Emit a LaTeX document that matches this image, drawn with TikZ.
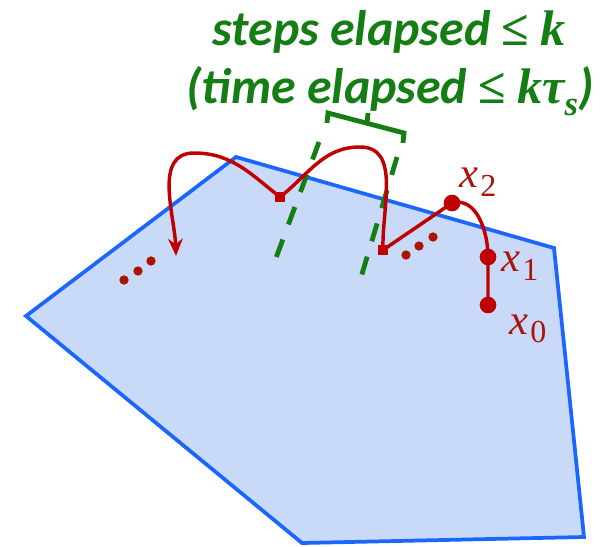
\documentclass[tikz,border=0pt]{standalone}
\usepackage{fontspec}
\setmainfont{Carlito}
\newfontfamily\mfont{Liberation Serif}
\usetikzlibrary{arrows.meta}
\definecolor{polyfill}{RGB}{201,218,248}
\definecolor{polyedge}{RGB}{26,102,255}
\definecolor{pathred}{RGB}{192,0,0}
\definecolor{dotred}{RGB}{170,20,0}
\definecolor{labred}{RGB}{170,20,10}
\definecolor{grn}{RGB}{20,125,20}
\newcommand{\mysub}[2]{{\mfont\itshape #1}\kern0.04em\raisebox{-0.2em}{\fontsize{24}{24}\selectfont\mfont\upshape #2}}
\newcommand{\leqsym}{{\mfont\bfseries\upshape ≤}}
\newcommand{\bi}[1]{{\mfont\bfseries\itshape #1}}
\tikzset{
  poly/.style={draw=polyedge,fill=polyfill,line width=2.8pt,line join=miter},
  traj/.style={draw=pathred,line width=2.6pt},
  sq/.style={fill=pathred,minimum size=8pt,inner sep=0pt,draw=none},
  pt/.style={circle,fill=pathred,minimum size=12.5pt,inner sep=0pt,draw=none},
  smalldot/.style={circle,fill=dotred,minimum size=7pt,inner sep=0pt,draw=none},
  lab/.style={text=labred,font=\fontsize{32}{36}\selectfont,inner sep=0pt},
  gdash/.style={draw=grn,line width=3.6pt,dash pattern=on 14pt off 12pt},
  brack/.style={draw=grn,line width=3.6pt,line join=miter},
  title/.style={text=grn,font=\fontsize{37.5}{43}\selectfont\bfseries\itshape,inner sep=0pt,anchor=base}
}
\begin{document}
\begin{tikzpicture}[x=0.75pt,y=-0.75pt]
\useasboundingbox (0,0) rectangle (616,546);
% polygon
\draw[poly] (236,157) -- (554,248) -- (584,537) -- (302,543) -- (26,316) -- cycle;
% title
\node[title] (t1) at (389,45) {steps elapsed \leqsym\ \bi{k}};
\node[title] (t2) at (390,103) {(time elapsed \leqsym\ \bi{kτ}\raisebox{-0.25em}{\fontsize{26}{26}\selectfont\bi{s}})};
% bracket
\coordinate (bl) at (328,113);
\coordinate (br) at (404,133);
\draw[brack] (327,123) -- (bl) -- (br) -- (403,143);
\draw[brack] (367,124) -- (368,113);
% dashed lines
\coordinate (dl1) at (319,142);
\coordinate (dl2) at (273,266);
\coordinate (dr1) at (397,157);
\coordinate (dr2) at (359,284);
\draw[gdash] (dl1) -- (dl2);
\draw[gdash] (dr1) -- (dr2);
% nodes
\node[sq] (s1) at (280,197) {};
\node[sq] (s2) at (383,250) {};
\node[pt] (x2) at (452,203) {};
\node[pt] (x1) at (488,257) {};
\node[pt] (x0) at (488,305) {};
\coordinate (atip) at (176,256);
% trajectory
\draw[traj,-{Stealth[length=13pt,width=11pt]}] (s1.center) to[out=142,in=0] (194,153) to[out=180,in=92] (atip);
\draw[traj] (s1.center) to[out=38,in=180] (360,147) to[out=0,in=92] (s2.center);
\draw[traj] (s2.center) -- (x2.center) to[out=15,in=90] (x1.center) -- (x0.center);
% ellipsis dots
\node[smalldot] (d1) at (124,280) {};
\node[smalldot] (d2) at (138,271) {};
\node[smalldot] (d3) at (151,261) {};
\node[smalldot] (d4) at (406,255) {};
\node[smalldot] (d5) at (419,246) {};
\node[smalldot] (d6) at (433,237) {};
% labels
\node[lab] (l2) at (478,182) {\mysub{x}{2}};
\node[lab] (l1) at (520,266) {\mysub{x}{1}};
\node[lab] (l0) at (528,329) {\mysub{x}{0}};
\end{tikzpicture}
\end{document}
